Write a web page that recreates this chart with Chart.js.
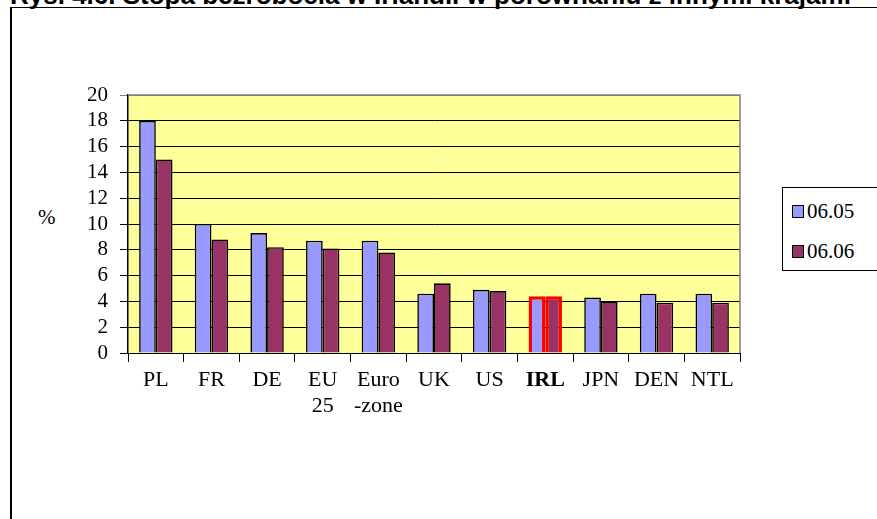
<!DOCTYPE html>
<html lang="pl">
<head>
    <meta charset="UTF-8">
    <title>Stopa bezrobocia</title>
    <script src="https://cdn.jsdelivr.net/npm/chart.js"></script>
    <style>
        body {
            margin: 0;
            padding: 0;
            width: 877px;
            height: 519px;
            overflow: hidden;
            background: #fff;
            position: relative;
            font-family: "Times New Roman", "Liberation Serif", serif;
        }
        .title {
            position: absolute;
            left: 10px;
            top: -18px;
            font-family: Arial, "Liberation Sans", sans-serif;
            font-weight: bold;
            font-size: 26px;
            line-height: 26px;
            white-space: nowrap;
        }
        .frame {
            position: absolute;
            left: 10px;
            top: 7px;
            width: 1000px;
            height: 1000px;
            border-top: 1px solid #000;
            border-left: 2px solid #000;
        }
        .chart-box {
            position: absolute;
            left: 0;
            top: 0;
            width: 877px;
            height: 519px;
        }
        .unit {
            position: absolute;
            left: 38px;
            top: 205px;
            font-size: 21px;
        }
        /* Legend */
        .legend {
            position: absolute;
            left: 782px;
            top: 187px;
            width: 120px;
            height: 84px;
            border: 1px solid #000;
            box-sizing: border-box;
            background: #fff;
        }
        .legend-item {
            position: absolute;
            left: 9px;
            display: flex;
            align-items: center;
            font-size: 21px;
        }
        .legend-color-box {
            width: 10px;
            height: 11px;
            border: 1.5px solid #000;
            margin-right: 3px;
        }
    </style>
</head>
<body>
    <div class="title">Rys. 4.6. Stopa bezrobocia w Irlandii w porównaniu z innymi krajami</div>
    <div class="frame"></div>
    <div class="unit">%</div>
    <div class="chart-box">
        <canvas id="unemploymentChart" width="877" height="519"></canvas>
    </div>
    <div class="legend" id="legend"></div>

    <script>
        // Countries (multi-line labels as in the original)
        const countries = ['PL', 'FR', 'DE', ['EU', '25'], ['Euro', '-zone'], 'UK', 'US', 'IRL', 'JPN', 'DEN', 'NTL'];
        // Unemployment rate, %
        const june2005 = [18.0, 10.0, 9.3, 8.7, 8.7, 4.6, 4.9, 4.4, 4.3, 4.6, 4.6];
        const june2006 = [15.0, 8.8, 8.2, 8.1, 7.8, 5.4, 4.8, 4.4, 4.0, 3.9, 3.9];
        const seriesNames = ['06.05', '06.06'];
        const seriesColors = ['#9999FF', '#993366'];
        const yMin = 0, yMax = 20, yStep = 2;
        const highlight = 'IRL';

        const serif = '"Times New Roman", "Liberation Serif", serif';
        const highlightIndex = countries.indexOf(highlight);
        const edgeColors = countries.map((c, i) => i === highlightIndex ? '#FF0000' : '#000000');
        const edgeWidths = countries.map((c, i) => i === highlightIndex ? 3.5 : 1.6);

        // Plot area background + grey top/right frame
        const plotArea = {
            id: 'plotArea',
            beforeDraw(chart) {
                const a = chart.chartArea;
                const c = chart.ctx;
                c.save();
                c.fillStyle = '#FFFF99';
                c.fillRect(a.left, a.top, a.right - a.left, a.bottom - a.top);
                c.restore();
            },
            afterDraw(chart) {
                const a = chart.chartArea;
                const c = chart.ctx;
                c.save();
                c.strokeStyle = '#808080';
                c.lineWidth = 1.5;
                c.beginPath();
                c.moveTo(a.left, a.top);
                c.lineTo(a.right, a.top);
                c.lineTo(a.right, a.bottom);
                c.stroke();
                c.restore();
            }
        };

        const ctx = document.getElementById('unemploymentChart').getContext('2d');
        const chart = new Chart(ctx, {
            type: 'bar',
            data: {
                labels: countries,
                datasets: [
                    {
                        label: seriesNames[0],
                        data: june2005,
                        backgroundColor: seriesColors[0],
                        borderColor: edgeColors,
                        borderWidth: edgeWidths
                    },
                    {
                        label: seriesNames[1],
                        data: june2006,
                        backgroundColor: seriesColors[1],
                        borderColor: edgeColors,
                        borderWidth: edgeWidths
                    }
                ]
            },
            options: {
                responsive: false,
                animation: false,
                layout: {
                    padding: { left: 0, right: 137, top: 95, bottom: 96 }
                },
                datasets: {
                    bar: {
                        categoryPercentage: 0.6,
                        barPercentage: 1.0
                    }
                },
                plugins: {
                    legend: { display: false },
                    tooltip: { enabled: false }
                },
                scales: {
                    x: {
                        grid: {
                            drawOnChartArea: false,
                            drawTicks: true,
                            tickLength: 9,
                            color: '#000'
                        },
                        border: { color: '#000', width: 1 },
                        ticks: {
                            color: '#000',
                            padding: 5,
                            maxRotation: 0,
                            autoSkip: false,
                            font: (c) => ({
                                family: serif,
                                size: 22,
                                lineHeight: 1.2,
                                weight: c.index === highlightIndex ? 'bold' : 'normal'
                            })
                        },
                        afterFit(scale) { scale.height = 70; }
                    },
                    y: {
                        min: yMin,
                        max: yMax,
                        grid: {
                            color: (c) => c.tick && c.tick.value === yMax ? '#808080' : '#000',
                            lineWidth: 1,
                            tickLength: 8
                        },
                        border: { color: '#000', width: 1.5 },
                        ticks: {
                            stepSize: yStep,
                            autoSkip: false,
                            color: '#000',
                            padding: 12,
                            font: {
                                family: serif,
                                size: 21
                            }
                        },
                        afterFit(scale) { scale.width = 128; }
                    }
                }
            },
            plugins: [plotArea]
        });

        // Legend built from the same series arrays
        const legend = document.getElementById('legend');
        seriesNames.forEach((name, i) => {
            const item = document.createElement('div');
            item.className = 'legend-item';
            item.style.top = (i === 0 ? 11 : 51) + 'px';
            const box = document.createElement('div');
            box.className = 'legend-color-box';
            box.style.backgroundColor = seriesColors[i];
            const text = document.createElement('span');
            text.textContent = name;
            item.appendChild(box);
            item.appendChild(text);
            legend.appendChild(item);
        });
    </script>
</body>
</html>
